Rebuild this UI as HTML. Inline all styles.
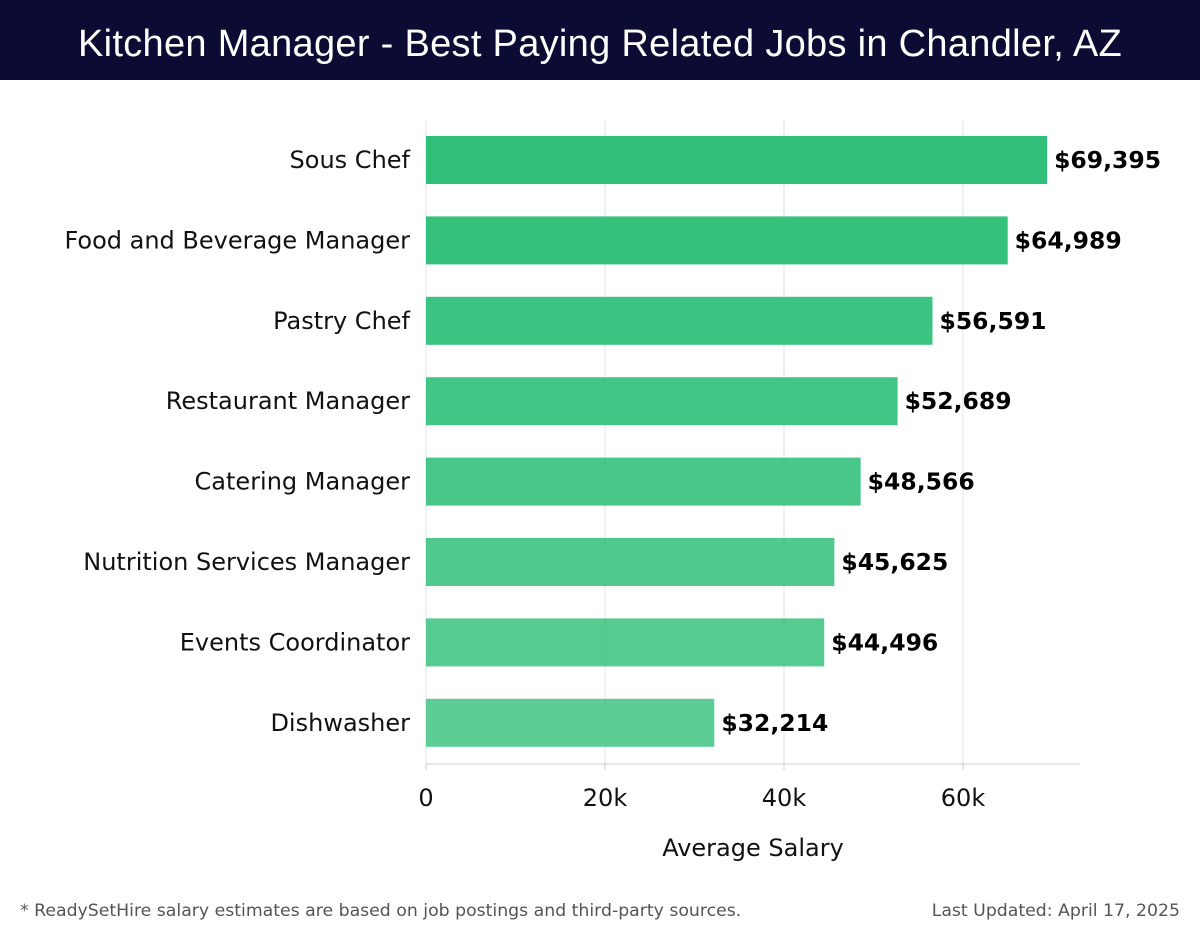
<!DOCTYPE html>
<html><head><meta charset="utf-8"><style>
body{margin:0;width:1200px;height:940px;background:#fff;font-family:"Liberation Sans","DejaVu Sans",sans-serif;overflow:hidden}
#hdr{position:absolute;left:0;top:0;width:1200px;height:80px;background:#0b0b33;color:#fff;font-size:38px;text-align:center;line-height:88px;letter-spacing:0.3px}
.foot{position:absolute;top:901px;font-size:17.3px;color:#555;font-family:"DejaVu Sans",sans-serif}
</style></head><body>
<div id="hdr">Kitchen Manager - Best Paying Related Jobs in Chandler, AZ</div>
<svg id="c" width="1200" height="940" style="position:absolute;left:0;top:0;font-family:'DejaVu Sans',sans-serif"></svg>
<div class="foot" style="left:20px">* ReadySetHire salary estimates are based on job postings and third-party sources.</div>
<div class="foot" style="right:20px">Last Updated: April 17, 2025</div>
<script>
const categories=["Sous Chef","Food and Beverage Manager","Pastry Chef","Restaurant Manager","Catering Manager","Nutrition Services Manager","Events Coordinator","Dishwasher"];
const salaries=[69395,64989,56591,52689,48566,45625,44496,32214];
const ticks=[0,20000,40000,60000];
const tickLabels=["0","20k","40k","60k"];
const svg=document.getElementById('c');
const NS='http://www.w3.org/2000/svg';
const x0=426,xScale=(963-426)/60000,plotTop=120,plotBottom=764,step=80.4;
const x=v=>x0+v*xScale;
const yc=i=>160+i*step;
function mk(t,a,txt){const e=document.createElementNS(NS,t);for(const k in a)e.setAttribute(k,a[k]);if(txt!=null)e.textContent=txt;svg.appendChild(e);return e;}
ticks.forEach((t,i)=>{
 const g=mk('line',{x1:x(t),x2:x(t),y1:plotTop,y2:plotBottom,stroke:'#e3e3e3','stroke-width':1});
 
 
 mk('line',{x1:x(t),x2:x(t),y1:plotBottom,y2:plotBottom+6,stroke:'#ccc'});
 const l=mk('text',{x:x(t),y:806,'font-size':24,'text-anchor':'middle',fill:'#111'},tickLabels[i]);
 
 
});
mk('line',{x1:x0,x2:1080,y1:plotBottom,y2:plotBottom,stroke:'#ccc'});
const at=mk('text',{x:753,y:856,'font-size':24,'text-anchor':'middle',fill:'#111'},'Average Salary');


categories.forEach((c,i)=>{
 const b=mk('rect',{x:x0,y:yc(i)-24,width:x(salaries[i])-x0,height:48,fill:'#28bd74','fill-opacity':0.97-i*0.03});
 
 
 const l=mk('text',{x:410,y:yc(i)+8,'font-size':24,'text-anchor':'end',fill:'#111'},c);
 
 
 const v=mk('text',{x:x(salaries[i])+7,y:yc(i)+8,'font-size':23.5,'font-weight':'bold',fill:'#000'},'$'+salaries[i].toLocaleString('en-US'));
 
 
});
</script>
</body></html>
